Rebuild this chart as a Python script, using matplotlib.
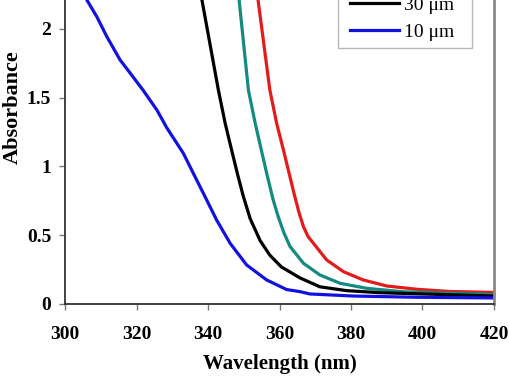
import matplotlib.pyplot as plt
from matplotlib.patches import Rectangle

# absorbance spectra (wavelength nm, absorbance)
wl_10 = [304.8, 306.1, 308.9, 311.7, 315.4, 318.2, 321.8, 325.7, 328.5, 333.1,
         335.8, 338.7, 342.4, 346.2, 350.8, 356.4, 362.0, 365.7, 368.5, 380.6,
         398.4, 420.0]
abs_10 = [2.30, 2.211, 2.089, 1.944, 1.775, 1.680, 1.556, 1.411, 1.280, 1.096,
          0.955, 0.805, 0.611, 0.441, 0.284, 0.175, 0.105, 0.090, 0.073, 0.058,
          0.049, 0.044]

wl_30 = [337.3, 338.3, 342.9, 344.8, 346.6, 348.2, 349.8, 351.8, 354.6, 357.3,
         360.5, 365.7, 371.3, 378.8, 388.1, 420.0]
abs_30 = [2.40, 2.211, 1.556, 1.314, 1.120, 0.950, 0.790, 0.620, 0.460, 0.355,
          0.270, 0.190, 0.125, 0.097, 0.082, 0.058]

wl_teal = [347.9, 348.7, 351.3, 353.2, 355.0, 356.6, 358.2, 359.7, 361.2, 362.9,
           366.7, 371.3, 376.9, 384.4, 394.6, 420.0]
abs_teal = [2.40, 2.211, 1.556, 1.314, 1.110, 0.930, 0.760, 0.630, 0.520, 0.420,
            0.296, 0.211, 0.151, 0.114, 0.089, 0.069]

wl_red = [353.3, 354.0, 357.3, 359.2, 361.1, 362.6, 364.1, 365.4, 366.7, 368.0,
          369.5, 373.2, 377.9, 383.4, 390.0, 398.4, 407.7, 420.0]
abs_red = [2.40, 2.211, 1.556, 1.314, 1.120, 0.960, 0.800, 0.670, 0.562, 0.490,
           0.441, 0.320, 0.235, 0.175, 0.131, 0.107, 0.091, 0.084]

xticks = [300, 320, 340, 360, 380, 400, 420]
yticks = [0, 0.5, 1, 1.5, 2]
ytick_labels = ["0", "0.5", "1", "1.5", "2"]

plt.rcParams.update({
    "font.family": ["Liberation Serif", "DejaVu Serif"],
    "font.size": 14,
})

fig = plt.figure(figsize=(5.1, 3.82), dpi=100)
ax = fig.add_axes([0.1275, 0.2042, 0.8411, 0.8999])

ax.plot(wl_red, abs_red, color="#e41b1b", linewidth=2.3)
ax.plot(wl_teal, abs_teal, color="#148a80", linewidth=2.3)
l30, = ax.plot(wl_30, abs_30, color="black", linewidth=2.3)
l10, = ax.plot(wl_10, abs_10, color="#1212e0", linewidth=2.3)

ax.set_xlim(300, 420)
ax.set_ylim(0, 2.5)
ax.set_xticks(xticks)
ax.set_yticks(yticks)
ax.set_yticklabels(ytick_labels)
for lab in ax.get_xticklabels() + ax.get_yticklabels():
    lab.set_fontweight("bold")
    lab.set_fontsize(14)
ax.tick_params(direction="out", length=4, width=1, color="#777777")
ax.tick_params(axis="x", pad=12)
ax.tick_params(axis="y", pad=6)

for side in ["left", "bottom"]:
    ax.spines[side].set_color("#333333")
    ax.spines[side].set_linewidth(1.3)
ax.spines["right"].set_color("#888888")
ax.spines["right"].set_linewidth(2)
ax.spines["top"].set_visible(False)

ax.set_xlabel("Wavelength (nm)", fontsize=15, fontweight="bold", labelpad=8)
ax.set_ylabel("Absorbance", fontsize=16, fontweight="bold")
ax.yaxis.set_label_coords(-0.098, 0.573)

# legend box, only its lower part is inside the picture
fig.patches.append(Rectangle((0.6627, 0.8743), 0.2627, 0.2, transform=fig.transFigure,
                             facecolor="white", edgecolor="#b8b8b8", linewidth=1, zorder=5))
leg = fig.legend([l30, l10], ["30 \u03bcm", "10 \u03bcm"], loc="lower left",
                 bbox_to_anchor=(0.686, 0.893), fontsize=14, frameon=False,
                 handlelength=2.55, handletextpad=0.25, labelspacing=0.5,
                 borderpad=0, borderaxespad=0)
leg.set_zorder(6)

fig.savefig("out.png", dpi=100)
